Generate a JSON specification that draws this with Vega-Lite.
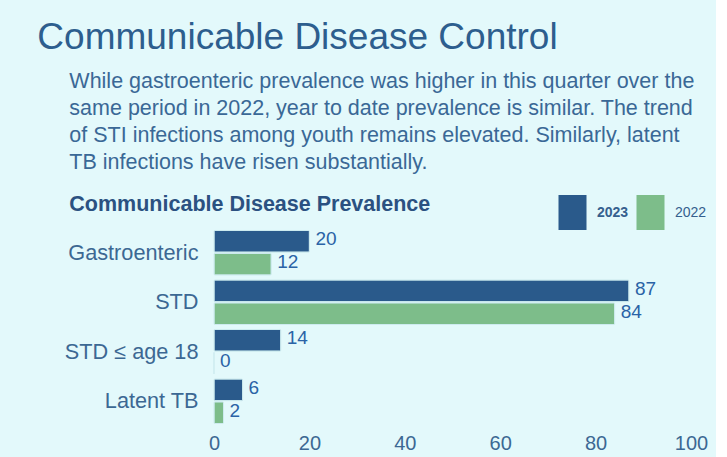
{
  "$schema": "https://vega.github.io/schema/vega-lite/v6.json",
  "background": "#E3F9FB",
  "padding": {"left": 37, "top": 19, "right": 8, "bottom": 8},
  "config": {
    "view": {"stroke": null},
    "font": "Liberation Sans",
    "concat": {"spacing": 0}
  },
  "title": {
    "text": "Communicable Disease Control",
    "anchor": "start",
    "fontSize": 37,
    "fontWeight": "normal",
    "color": "#2D5E8E",
    "offset": 14,
    "dx": -27
  },
  "vconcat": [
    {
      "title": {
        "text": [
          "While gastroenteric prevalence was higher in this quarter over the",
          "same period in 2022, year to date prevalence is similar. The trend",
          "of STI infections among youth remains elevated. Similarly, latent",
          "TB infections have risen substantially."
        ],
        "anchor": "start",
        "fontSize": 21.5,
        "lineHeight": 27,
        "fontWeight": "normal",
        "color": "#3A6896",
        "offset": 20,
        "dx": 5
      },
      "vconcat": [
        {
          "title": {
            "text": "Communicable Disease Prevalence",
            "anchor": "start",
            "fontSize": 21.5,
            "fontWeight": "bold",
            "color": "#2B5181",
            "offset": 13,
            "dx": 5
          },
          "width": 477,
          "height": 198,
          "data": {
            "values": [
              {"category": "Gastroenteric", "year": "2023", "value": 20},
              {"category": "Gastroenteric", "year": "2022", "value": 12},
              {"category": "STD", "year": "2023", "value": 87},
              {"category": "STD", "year": "2022", "value": 84},
              {"category": "STD ≤ age 18", "year": "2023", "value": 14},
              {"category": "STD ≤ age 18", "year": "2022", "value": 0},
              {"category": "Latent TB", "year": "2023", "value": 6},
              {"category": "Latent TB", "year": "2022", "value": 2}
            ]
          },
          "encoding": {
            "y": {
              "field": "category",
              "type": "nominal",
              "sort": ["Gastroenteric", "STD", "STD ≤ age 18", "Latent TB"],
              "scale": {"paddingInner": 0.1, "paddingOuter": 0.05},
              "axis": {
                "title": null,
                "domain": false,
                "ticks": false,
                "labelPadding": 16,
                "labelFontSize": 21.7,
                "labelColor": "#3C6893",
                "labelFont": "Liberation Sans"
              }
            },
            "yOffset": {
              "field": "year",
              "type": "nominal",
              "sort": ["2023", "2022"],
              "scale": {"paddingInner": 0.05}
            },
            "x": {
              "field": "value",
              "type": "quantitative",
              "scale": {"domain": [0, 100]},
              "axis": {
                "title": null,
                "domain": false,
                "ticks": false,
                "grid": false,
                "values": [0, 20, 40, 60, 80, 100],
                "labelFlush": false,
                "labelPadding": 7,
                "labelFontSize": 20,
                "labelColor": "#3C6893"
              }
            }
          },
          "layer": [
            {
              "mark": {"type": "bar", "stroke": "#CDEBEF", "strokeWidth": 1, "cornerRadius": 1},
              "encoding": {
                "color": {
                  "field": "year",
                  "type": "nominal",
                  "scale": {"domain": ["2023", "2022"], "range": ["#2A5A8B", "#7DBD8A"]},
                  "legend": {
                    "title": null,
                    "orient": "none",
                    "direction": "horizontal",
                    "legendX": 341,
                    "legendY": -33,
                    "symbolType": "M-0.8,-1H0.8V1H-0.8Z",
                    "symbolSize": 1225,
                    "symbolStrokeWidth": 0,
                    "labelFontSize": 14,
                    "labelColor": "#35608E",
                    "labelOffset": 7,
                    "columnPadding": 4,
                    "labelFontWeight": {"expr": "datum.value === '2023' ? 'bold' : 'normal'"}
                  }
                }
              }
            },
            {
              "mark": {"type": "text", "align": "left", "baseline": "middle", "dx": 6, "dy": -2, "fontSize": 19, "color": "#2A63A6"},
              "encoding": {
                "text": {"field": "value", "type": "quantitative"}
              }
            }
          ]
        }
      ]
    }
  ]
}
